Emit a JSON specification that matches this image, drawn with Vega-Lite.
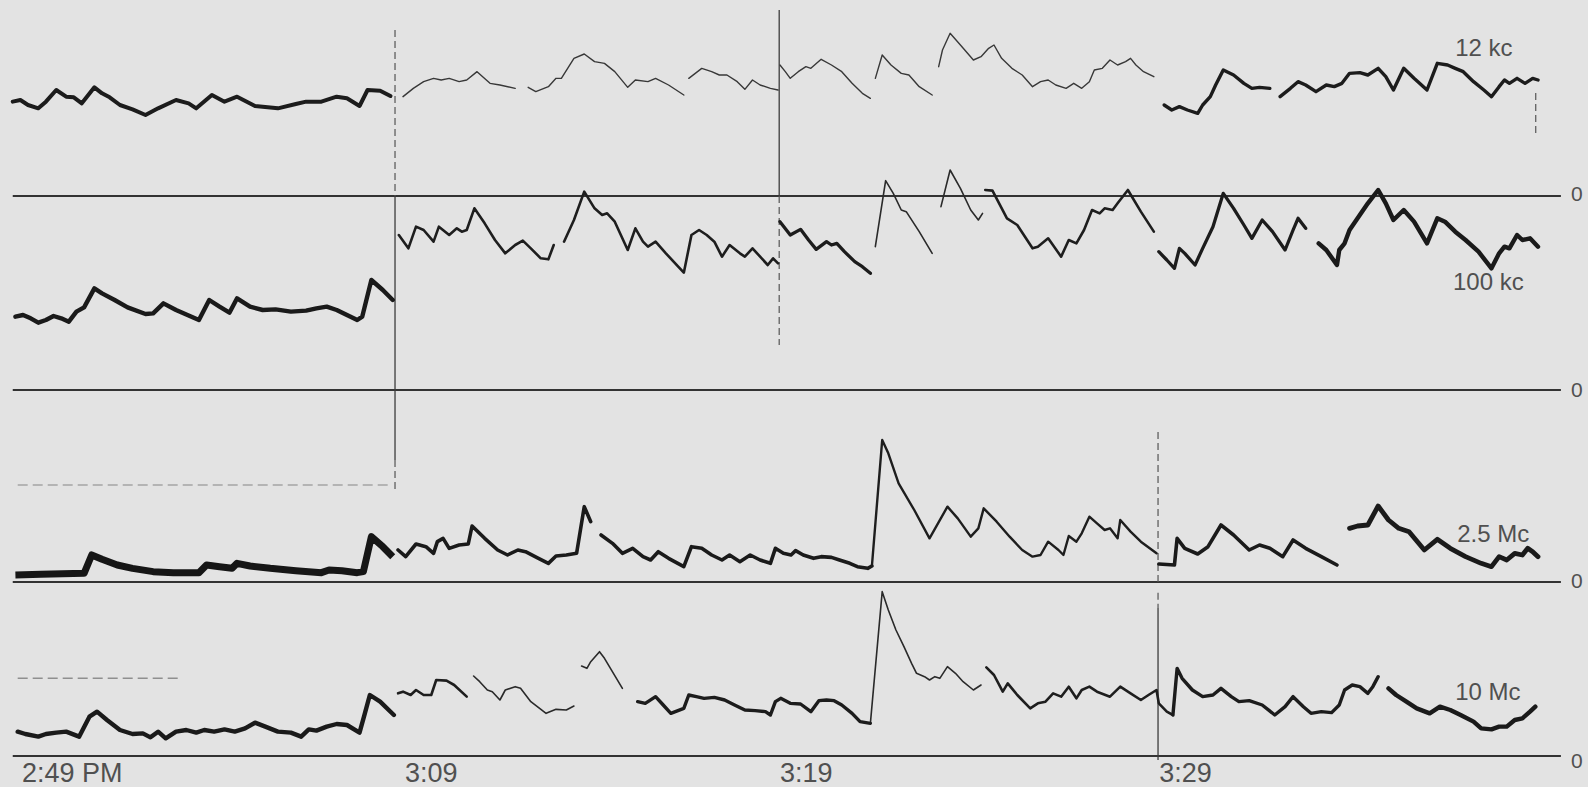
{
"$schema": "https://vega.github.io/schema/vega-lite/v6.json",
"background": "#e3e3e3",
"padding": 0,
"config": {"view": {"stroke": null}, "font": "Liberation Sans"},
"datasets": {
"trace": [
{"band":"12 kc","seg":"12a","t":-10.02,"v":28.3},{"band":"12 kc","seg":"12a","t":-9.82,"v":28.8},{"band":"12 kc","seg":"12a","t":-9.62,"v":27.3},{"band":"12 kc","seg":"12a","t":-9.35,"v":26.3},{"band":"12 kc","seg":"12a","t":-9.15,"v":28.3},{"band":"12 kc","seg":"12a","t":-8.88,"v":31.8},{"band":"12 kc","seg":"12a","t":-8.62,"v":29.8},{"band":"12 kc","seg":"12a","t":-8.42,"v":29.6},{"band":"12 kc","seg":"12a","t":-8.21,"v":27.8},{"band":"12 kc","seg":"12a","t":-7.88,"v":32.6},{"band":"12 kc","seg":"12a","t":-7.68,"v":30.8},{"band":"12 kc","seg":"12a","t":-7.48,"v":29.6},{"band":"12 kc","seg":"12a","t":-7.21,"v":27.3},{"band":"12 kc","seg":"12a","t":-6.88,"v":26.0},{"band":"12 kc","seg":"12a","t":-6.54,"v":24.3},{"band":"12 kc","seg":"12a","t":-6.21,"v":26.3},{"band":"12 kc","seg":"12a","t":-5.74,"v":28.8},{"band":"12 kc","seg":"12a","t":-5.41,"v":27.8},{"band":"12 kc","seg":"12a","t":-5.21,"v":26.3},{"band":"12 kc","seg":"12a","t":-4.80,"v":30.3},{"band":"12 kc","seg":"12a","t":-4.47,"v":28.3},{"band":"12 kc","seg":"12a","t":-4.14,"v":29.8},{"band":"12 kc","seg":"12a","t":-3.67,"v":27.0},{"band":"12 kc","seg":"12a","t":-3.07,"v":26.3},{"band":"12 kc","seg":"12a","t":-2.60,"v":27.6},{"band":"12 kc","seg":"12a","t":-2.33,"v":28.3},{"band":"12 kc","seg":"12a","t":-1.93,"v":28.3},{"band":"12 kc","seg":"12a","t":-1.53,"v":29.8},{"band":"12 kc","seg":"12a","t":-1.26,"v":29.3},{"band":"12 kc","seg":"12a","t":-0.93,"v":27.0},{"band":"12 kc","seg":"12a","t":-0.72,"v":31.8},{"band":"12 kc","seg":"12a","t":-0.39,"v":31.6},{"band":"12 kc","seg":"12a","t":-0.12,"v":30.0},
{"band":"12 kc","seg":"12b","t":0.21,"v":29.8},{"band":"12 kc","seg":"12b","t":0.48,"v":32.3},{"band":"12 kc","seg":"12b","t":0.75,"v":34.3},{"band":"12 kc","seg":"12b","t":1.01,"v":35.3},{"band":"12 kc","seg":"12b","t":1.21,"v":34.8},{"band":"12 kc","seg":"12b","t":1.42,"v":35.3},{"band":"12 kc","seg":"12b","t":1.68,"v":34.3},{"band":"12 kc","seg":"12b","t":1.88,"v":34.8},{"band":"12 kc","seg":"12b","t":2.15,"v":37.3},{"band":"12 kc","seg":"12b","t":2.49,"v":33.8},{"band":"12 kc","seg":"12b","t":2.75,"v":33.3},{"band":"12 kc","seg":"12b","t":3.15,"v":32.3},
{"band":"12 kc","seg":"12c","t":3.49,"v":32.6},{"band":"12 kc","seg":"12c","t":3.69,"v":31.3},{"band":"12 kc","seg":"12c","t":4.02,"v":32.8},{"band":"12 kc","seg":"12c","t":4.22,"v":35.3},{"band":"12 kc","seg":"12c","t":4.36,"v":35.3},{"band":"12 kc","seg":"12c","t":4.69,"v":41.3},{"band":"12 kc","seg":"12c","t":4.96,"v":42.6},{"band":"12 kc","seg":"12c","t":5.23,"v":40.3},{"band":"12 kc","seg":"12c","t":5.49,"v":39.8},{"band":"12 kc","seg":"12c","t":5.76,"v":37.3},{"band":"12 kc","seg":"12c","t":6.10,"v":32.6},{"band":"12 kc","seg":"12c","t":6.30,"v":34.8},{"band":"12 kc","seg":"12c","t":6.63,"v":34.3},{"band":"12 kc","seg":"12c","t":6.83,"v":35.3},{"band":"12 kc","seg":"12c","t":7.17,"v":33.3},{"band":"12 kc","seg":"12c","t":7.57,"v":30.3},
{"band":"12 kc","seg":"12d","t":7.70,"v":35.3},{"band":"12 kc","seg":"12d","t":8.04,"v":38.3},{"band":"12 kc","seg":"12d","t":8.30,"v":37.3},{"band":"12 kc","seg":"12d","t":8.50,"v":36.3},{"band":"12 kc","seg":"12d","t":8.70,"v":36.3},{"band":"12 kc","seg":"12d","t":8.97,"v":34.3},{"band":"12 kc","seg":"12d","t":9.17,"v":32.0},{"band":"12 kc","seg":"12d","t":9.37,"v":34.8},{"band":"12 kc","seg":"12d","t":9.57,"v":33.3},{"band":"12 kc","seg":"12d","t":9.84,"v":32.3},{"band":"12 kc","seg":"12d","t":10.04,"v":31.8},
{"band":"12 kc","seg":"12e","t":10.09,"v":39.3},{"band":"12 kc","seg":"12e","t":10.23,"v":37.3},{"band":"12 kc","seg":"12e","t":10.36,"v":35.3},{"band":"12 kc","seg":"12e","t":10.57,"v":37.3},{"band":"12 kc","seg":"12e","t":10.77,"v":38.8},{"band":"12 kc","seg":"12e","t":10.90,"v":38.3},{"band":"12 kc","seg":"12e","t":11.17,"v":41.0},{"band":"12 kc","seg":"12e","t":11.44,"v":39.3},{"band":"12 kc","seg":"12e","t":11.71,"v":37.3},{"band":"12 kc","seg":"12e","t":11.98,"v":33.8},{"band":"12 kc","seg":"12e","t":12.25,"v":30.8},{"band":"12 kc","seg":"12e","t":12.46,"v":29.3},
{"band":"12 kc","seg":"12f","t":12.59,"v":35.3},{"band":"12 kc","seg":"12f","t":12.77,"v":42.3},{"band":"12 kc","seg":"12f","t":13.00,"v":39.3},{"band":"12 kc","seg":"12f","t":13.27,"v":36.8},{"band":"12 kc","seg":"12f","t":13.47,"v":36.3},{"band":"12 kc","seg":"12f","t":13.74,"v":32.8},{"band":"12 kc","seg":"12f","t":14.08,"v":30.3},
{"band":"12 kc","seg":"12g","t":14.25,"v":38.8},{"band":"12 kc","seg":"12g","t":14.35,"v":43.8},{"band":"12 kc","seg":"12g","t":14.55,"v":48.8},{"band":"12 kc","seg":"12g","t":14.82,"v":45.3},{"band":"12 kc","seg":"12g","t":15.16,"v":40.8},{"band":"12 kc","seg":"12g","t":15.36,"v":41.8},{"band":"12 kc","seg":"12g","t":15.56,"v":44.3},{"band":"12 kc","seg":"12g","t":15.70,"v":45.3},{"band":"12 kc","seg":"12g","t":15.90,"v":41.3},{"band":"12 kc","seg":"12g","t":16.17,"v":38.3},{"band":"12 kc","seg":"12g","t":16.44,"v":36.3},{"band":"12 kc","seg":"12g","t":16.71,"v":32.8},{"band":"12 kc","seg":"12g","t":16.92,"v":34.3},{"band":"12 kc","seg":"12g","t":17.12,"v":34.8},{"band":"12 kc","seg":"12g","t":17.32,"v":33.3},{"band":"12 kc","seg":"12g","t":17.59,"v":32.3},{"band":"12 kc","seg":"12g","t":17.79,"v":33.8},{"band":"12 kc","seg":"12g","t":18.00,"v":32.3},{"band":"12 kc","seg":"12g","t":18.20,"v":34.3},{"band":"12 kc","seg":"12g","t":18.33,"v":37.8},{"band":"12 kc","seg":"12g","t":18.54,"v":38.3},{"band":"12 kc","seg":"12g","t":18.74,"v":40.8},{"band":"12 kc","seg":"12g","t":18.94,"v":39.3},{"band":"12 kc","seg":"12g","t":19.15,"v":40.3},{"band":"12 kc","seg":"12g","t":19.28,"v":41.3},{"band":"12 kc","seg":"12g","t":19.42,"v":39.3},{"band":"12 kc","seg":"12g","t":19.62,"v":37.3},{"band":"12 kc","seg":"12g","t":19.89,"v":35.8},
{"band":"12 kc","seg":"12h","t":20.16,"v":27.3},{"band":"12 kc","seg":"12h","t":20.36,"v":25.8},{"band":"12 kc","seg":"12h","t":20.56,"v":26.8},{"band":"12 kc","seg":"12h","t":20.77,"v":25.8},{"band":"12 kc","seg":"12h","t":21.04,"v":24.8},{"band":"12 kc","seg":"12h","t":21.17,"v":27.3},{"band":"12 kc","seg":"12h","t":21.37,"v":29.8},{"band":"12 kc","seg":"12h","t":21.51,"v":33.3},{"band":"12 kc","seg":"12h","t":21.71,"v":37.8},{"band":"12 kc","seg":"12h","t":21.98,"v":36.3},{"band":"12 kc","seg":"12h","t":22.25,"v":33.8},{"band":"12 kc","seg":"12h","t":22.46,"v":32.3},{"band":"12 kc","seg":"12h","t":22.66,"v":32.6},{"band":"12 kc","seg":"12h","t":22.93,"v":32.3},
{"band":"12 kc","seg":"12i","t":23.20,"v":29.8},{"band":"12 kc","seg":"12i","t":23.47,"v":32.3},{"band":"12 kc","seg":"12i","t":23.67,"v":34.3},{"band":"12 kc","seg":"12i","t":23.87,"v":33.3},{"band":"12 kc","seg":"12i","t":24.14,"v":31.3},{"band":"12 kc","seg":"12i","t":24.41,"v":33.3},{"band":"12 kc","seg":"12i","t":24.62,"v":32.8},{"band":"12 kc","seg":"12i","t":24.82,"v":33.8},{"band":"12 kc","seg":"12i","t":25.02,"v":36.8},{"band":"12 kc","seg":"12i","t":25.29,"v":37.0},{"band":"12 kc","seg":"12i","t":25.50,"v":36.3},{"band":"12 kc","seg":"12i","t":25.77,"v":38.3},{"band":"12 kc","seg":"12i","t":25.97,"v":35.8},{"band":"12 kc","seg":"12i","t":26.17,"v":31.8},{"band":"12 kc","seg":"12i","t":26.44,"v":38.3},{"band":"12 kc","seg":"12i","t":26.71,"v":35.3},{"band":"12 kc","seg":"12i","t":27.05,"v":31.8},{"band":"12 kc","seg":"12i","t":27.32,"v":39.8},{"band":"12 kc","seg":"12i","t":27.59,"v":39.3},{"band":"12 kc","seg":"12i","t":27.79,"v":38.3},{"band":"12 kc","seg":"12i","t":28.00,"v":37.3},{"band":"12 kc","seg":"12i","t":28.27,"v":34.3},{"band":"12 kc","seg":"12i","t":28.54,"v":31.8},{"band":"12 kc","seg":"12i","t":28.74,"v":29.8},{"band":"12 kc","seg":"12i","t":28.94,"v":32.8},{"band":"12 kc","seg":"12i","t":29.08,"v":34.8},{"band":"12 kc","seg":"12i","t":29.21,"v":33.8},{"band":"12 kc","seg":"12i","t":29.41,"v":35.3},{"band":"12 kc","seg":"12i","t":29.62,"v":33.8},{"band":"12 kc","seg":"12i","t":29.82,"v":35.3},{"band":"12 kc","seg":"12i","t":29.96,"v":34.8},

{"band":"100 kc","seg":"100a","t":-9.95,"v":22.0},{"band":"100 kc","seg":"100a","t":-9.75,"v":22.5},{"band":"100 kc","seg":"100a","t":-9.55,"v":21.5},{"band":"100 kc","seg":"100a","t":-9.35,"v":20.2},{"band":"100 kc","seg":"100a","t":-9.15,"v":21.0},{"band":"100 kc","seg":"100a","t":-8.95,"v":22.2},{"band":"100 kc","seg":"100a","t":-8.75,"v":21.5},{"band":"100 kc","seg":"100a","t":-8.55,"v":20.5},{"band":"100 kc","seg":"100a","t":-8.35,"v":23.5},{"band":"100 kc","seg":"100a","t":-8.15,"v":24.8},{"band":"100 kc","seg":"100a","t":-7.88,"v":30.5},{"band":"100 kc","seg":"100a","t":-7.68,"v":29.0},{"band":"100 kc","seg":"100a","t":-7.35,"v":27.0},{"band":"100 kc","seg":"100a","t":-7.01,"v":24.8},{"band":"100 kc","seg":"100a","t":-6.54,"v":22.8},{"band":"100 kc","seg":"100a","t":-6.34,"v":23.0},{"band":"100 kc","seg":"100a","t":-6.07,"v":26.0},{"band":"100 kc","seg":"100a","t":-5.74,"v":24.0},{"band":"100 kc","seg":"100a","t":-5.14,"v":21.0},{"band":"100 kc","seg":"100a","t":-4.87,"v":27.0},{"band":"100 kc","seg":"100a","t":-4.60,"v":25.0},{"band":"100 kc","seg":"100a","t":-4.34,"v":23.2},{"band":"100 kc","seg":"100a","t":-4.14,"v":27.5},{"band":"100 kc","seg":"100a","t":-3.80,"v":25.0},{"band":"100 kc","seg":"100a","t":-3.47,"v":24.0},{"band":"100 kc","seg":"100a","t":-3.13,"v":24.2},{"band":"100 kc","seg":"100a","t":-2.73,"v":23.5},{"band":"100 kc","seg":"100a","t":-2.33,"v":23.8},{"band":"100 kc","seg":"100a","t":-2.06,"v":24.5},{"band":"100 kc","seg":"100a","t":-1.79,"v":25.0},{"band":"100 kc","seg":"100a","t":-1.53,"v":24.0},{"band":"100 kc","seg":"100a","t":-0.99,"v":21.0},{"band":"100 kc","seg":"100a","t":-0.86,"v":22.0},{"band":"100 kc","seg":"100a","t":-0.62,"v":33.0},{"band":"100 kc","seg":"100a","t":-0.32,"v":30.0},{"band":"100 kc","seg":"100a","t":-0.06,"v":27.0},
{"band":"100 kc","seg":"100b","t":0.10,"v":46.5},{"band":"100 kc","seg":"100b","t":0.35,"v":42.5},{"band":"100 kc","seg":"100b","t":0.55,"v":49.0},{"band":"100 kc","seg":"100b","t":0.75,"v":48.0},{"band":"100 kc","seg":"100b","t":1.01,"v":44.5},{"band":"100 kc","seg":"100b","t":1.15,"v":49.0},{"band":"100 kc","seg":"100b","t":1.42,"v":46.5},{"band":"100 kc","seg":"100b","t":1.62,"v":48.5},{"band":"100 kc","seg":"100b","t":1.75,"v":47.5},{"band":"100 kc","seg":"100b","t":1.88,"v":48.0},{"band":"100 kc","seg":"100b","t":2.08,"v":54.5},{"band":"100 kc","seg":"100b","t":2.35,"v":50.0},{"band":"100 kc","seg":"100b","t":2.62,"v":45.0},{"band":"100 kc","seg":"100b","t":2.89,"v":41.0},{"band":"100 kc","seg":"100b","t":3.15,"v":43.5},{"band":"100 kc","seg":"100b","t":3.35,"v":44.8},{"band":"100 kc","seg":"100b","t":3.56,"v":42.5},{"band":"100 kc","seg":"100b","t":3.82,"v":39.5},{"band":"100 kc","seg":"100b","t":4.02,"v":39.2},{"band":"100 kc","seg":"100b","t":4.16,"v":43.5},
{"band":"100 kc","seg":"100c","t":4.43,"v":44.5},{"band":"100 kc","seg":"100c","t":4.69,"v":51.0},{"band":"100 kc","seg":"100c","t":4.96,"v":59.5},{"band":"100 kc","seg":"100c","t":5.23,"v":54.5},{"band":"100 kc","seg":"100c","t":5.43,"v":52.5},{"band":"100 kc","seg":"100c","t":5.56,"v":53.0},{"band":"100 kc","seg":"100c","t":5.76,"v":50.5},{"band":"100 kc","seg":"100c","t":6.10,"v":42.0},{"band":"100 kc","seg":"100c","t":6.30,"v":48.5},{"band":"100 kc","seg":"100c","t":6.50,"v":44.5},{"band":"100 kc","seg":"100c","t":6.63,"v":43.0},{"band":"100 kc","seg":"100c","t":6.83,"v":44.5},{"band":"100 kc","seg":"100c","t":7.10,"v":41.0},{"band":"100 kc","seg":"100c","t":7.57,"v":35.2},{"band":"100 kc","seg":"100c","t":7.77,"v":46.5},{"band":"100 kc","seg":"100c","t":7.97,"v":48.0},{"band":"100 kc","seg":"100c","t":8.17,"v":46.5},{"band":"100 kc","seg":"100c","t":8.37,"v":44.5},{"band":"100 kc","seg":"100c","t":8.57,"v":40.0},{"band":"100 kc","seg":"100c","t":8.77,"v":43.5},{"band":"100 kc","seg":"100c","t":9.04,"v":41.0},{"band":"100 kc","seg":"100c","t":9.17,"v":40.0},{"band":"100 kc","seg":"100c","t":9.37,"v":42.5},{"band":"100 kc","seg":"100c","t":9.57,"v":40.0},{"band":"100 kc","seg":"100c","t":9.77,"v":37.5},{"band":"100 kc","seg":"100c","t":9.91,"v":39.5},{"band":"100 kc","seg":"100c","t":10.04,"v":38.0},
{"band":"100 kc","seg":"100d","t":10.09,"v":50.5},{"band":"100 kc","seg":"100d","t":10.36,"v":46.5},{"band":"100 kc","seg":"100d","t":10.63,"v":48.2},{"band":"100 kc","seg":"100d","t":10.84,"v":45.0},{"band":"100 kc","seg":"100d","t":11.04,"v":42.2},{"band":"100 kc","seg":"100d","t":11.31,"v":44.5},{"band":"100 kc","seg":"100d","t":11.44,"v":43.5},{"band":"100 kc","seg":"100d","t":11.58,"v":44.0},{"band":"100 kc","seg":"100d","t":11.78,"v":41.5},{"band":"100 kc","seg":"100d","t":12.05,"v":38.5},{"band":"100 kc","seg":"100d","t":12.25,"v":37.0},{"band":"100 kc","seg":"100d","t":12.46,"v":35.0},
{"band":"100 kc","seg":"100e","t":12.59,"v":43.0},{"band":"100 kc","seg":"100e","t":12.86,"v":62.8},{"band":"100 kc","seg":"100e","t":13.06,"v":59.0},{"band":"100 kc","seg":"100e","t":13.27,"v":54.0},{"band":"100 kc","seg":"100e","t":13.40,"v":53.5},{"band":"100 kc","seg":"100e","t":13.74,"v":47.5},{"band":"100 kc","seg":"100e","t":14.08,"v":41.0},
{"band":"100 kc","seg":"100f","t":14.31,"v":55.0},{"band":"100 kc","seg":"100f","t":14.55,"v":66.0},{"band":"100 kc","seg":"100f","t":14.82,"v":60.5},{"band":"100 kc","seg":"100f","t":15.09,"v":54.0},{"band":"100 kc","seg":"100f","t":15.29,"v":51.0},{"band":"100 kc","seg":"100f","t":15.40,"v":53.0},
{"band":"100 kc","seg":"100g","t":15.47,"v":60.0},{"band":"100 kc","seg":"100g","t":15.66,"v":59.8},{"band":"100 kc","seg":"100g","t":16.04,"v":51.5},{"band":"100 kc","seg":"100g","t":16.31,"v":49.5},{"band":"100 kc","seg":"100g","t":16.71,"v":42.5},{"band":"100 kc","seg":"100g","t":16.85,"v":43.0},{"band":"100 kc","seg":"100g","t":17.12,"v":45.5},{"band":"100 kc","seg":"100g","t":17.46,"v":40.0},{"band":"100 kc","seg":"100g","t":17.66,"v":45.0},{"band":"100 kc","seg":"100g","t":17.86,"v":44.0},{"band":"100 kc","seg":"100g","t":18.06,"v":48.0},{"band":"100 kc","seg":"100g","t":18.27,"v":54.0},{"band":"100 kc","seg":"100g","t":18.47,"v":53.0},{"band":"100 kc","seg":"100g","t":18.60,"v":54.5},{"band":"100 kc","seg":"100g","t":18.81,"v":54.0},{"band":"100 kc","seg":"100g","t":18.94,"v":56.0},{"band":"100 kc","seg":"100g","t":19.21,"v":60.0},{"band":"100 kc","seg":"100g","t":19.55,"v":53.5},{"band":"100 kc","seg":"100g","t":19.89,"v":47.5},
{"band":"100 kc","seg":"100h","t":20.02,"v":41.5},{"band":"100 kc","seg":"100h","t":20.23,"v":39.0},{"band":"100 kc","seg":"100h","t":20.43,"v":36.5},{"band":"100 kc","seg":"100h","t":20.56,"v":42.5},{"band":"100 kc","seg":"100h","t":20.70,"v":41.0},{"band":"100 kc","seg":"100h","t":20.97,"v":37.5},{"band":"100 kc","seg":"100h","t":21.17,"v":42.5},{"band":"100 kc","seg":"100h","t":21.44,"v":49.0},{"band":"100 kc","seg":"100h","t":21.71,"v":59.0},{"band":"100 kc","seg":"100h","t":21.98,"v":54.5},{"band":"100 kc","seg":"100h","t":22.25,"v":49.5},{"band":"100 kc","seg":"100h","t":22.46,"v":45.5},{"band":"100 kc","seg":"100h","t":22.73,"v":51.0},{"band":"100 kc","seg":"100h","t":23.00,"v":47.5},{"band":"100 kc","seg":"100h","t":23.33,"v":42.0},{"band":"100 kc","seg":"100h","t":23.54,"v":48.0},{"band":"100 kc","seg":"100h","t":23.67,"v":51.5},{"band":"100 kc","seg":"100h","t":23.87,"v":48.5},
{"band":"100 kc","seg":"100i","t":24.21,"v":44.0},{"band":"100 kc","seg":"100i","t":24.41,"v":42.0},{"band":"100 kc","seg":"100i","t":24.69,"v":37.5},{"band":"100 kc","seg":"100i","t":24.75,"v":42.0},{"band":"100 kc","seg":"100i","t":24.89,"v":44.0},{"band":"100 kc","seg":"100i","t":25.02,"v":48.0},{"band":"100 kc","seg":"100i","t":25.23,"v":51.5},{"band":"100 kc","seg":"100i","t":25.50,"v":56.0},{"band":"100 kc","seg":"100i","t":25.77,"v":60.0},{"band":"100 kc","seg":"100i","t":25.97,"v":56.0},{"band":"100 kc","seg":"100i","t":26.17,"v":51.0},{"band":"100 kc","seg":"100i","t":26.44,"v":54.0},{"band":"100 kc","seg":"100i","t":26.71,"v":50.5},{"band":"100 kc","seg":"100i","t":27.05,"v":44.0},{"band":"100 kc","seg":"100i","t":27.32,"v":51.5},{"band":"100 kc","seg":"100i","t":27.52,"v":50.5},{"band":"100 kc","seg":"100i","t":27.79,"v":47.5},{"band":"100 kc","seg":"100i","t":28.06,"v":45.0},{"band":"100 kc","seg":"100i","t":28.40,"v":41.5},{"band":"100 kc","seg":"100i","t":28.74,"v":36.5},{"band":"100 kc","seg":"100i","t":28.94,"v":41.0},{"band":"100 kc","seg":"100i","t":29.08,"v":43.0},{"band":"100 kc","seg":"100i","t":29.21,"v":42.5},{"band":"100 kc","seg":"100i","t":29.41,"v":46.5},{"band":"100 kc","seg":"100i","t":29.55,"v":45.0},{"band":"100 kc","seg":"100i","t":29.75,"v":45.5},{"band":"100 kc","seg":"100i","t":29.96,"v":43.0},

{"band":"2.5 Mc","seg":"25a","t":-9.95,"v":2.1},{"band":"2.5 Mc","seg":"25a","t":-9.28,"v":2.3},{"band":"2.5 Mc","seg":"25a","t":-8.15,"v":2.6},{"band":"2.5 Mc","seg":"25a","t":-7.95,"v":8.1},{"band":"2.5 Mc","seg":"25a","t":-7.68,"v":6.8},{"band":"2.5 Mc","seg":"25a","t":-7.28,"v":5.1},{"band":"2.5 Mc","seg":"25a","t":-6.88,"v":4.1},{"band":"2.5 Mc","seg":"25a","t":-6.34,"v":3.1},{"band":"2.5 Mc","seg":"25a","t":-5.81,"v":2.8},{"band":"2.5 Mc","seg":"25a","t":-5.14,"v":2.8},{"band":"2.5 Mc","seg":"25a","t":-4.94,"v":5.1},{"band":"2.5 Mc","seg":"25a","t":-4.60,"v":4.6},{"band":"2.5 Mc","seg":"25a","t":-4.27,"v":4.1},{"band":"2.5 Mc","seg":"25a","t":-4.14,"v":5.6},{"band":"2.5 Mc","seg":"25a","t":-3.80,"v":4.8},{"band":"2.5 Mc","seg":"25a","t":-3.27,"v":4.1},{"band":"2.5 Mc","seg":"25a","t":-2.60,"v":3.4},{"band":"2.5 Mc","seg":"25a","t":-1.93,"v":2.8},{"band":"2.5 Mc","seg":"25a","t":-1.73,"v":3.6},{"band":"2.5 Mc","seg":"25a","t":-1.39,"v":3.4},{"band":"2.5 Mc","seg":"25a","t":-0.99,"v":2.8},{"band":"2.5 Mc","seg":"25a","t":-0.83,"v":3.1},{"band":"2.5 Mc","seg":"25a","t":-0.62,"v":13.6},{"band":"2.5 Mc","seg":"25a","t":-0.32,"v":10.6},{"band":"2.5 Mc","seg":"25a","t":-0.06,"v":7.6},
{"band":"2.5 Mc","seg":"25b","t":0.08,"v":9.6},{"band":"2.5 Mc","seg":"25b","t":0.28,"v":7.6},{"band":"2.5 Mc","seg":"25b","t":0.55,"v":11.4},{"band":"2.5 Mc","seg":"25b","t":0.81,"v":10.6},{"band":"2.5 Mc","seg":"25b","t":1.01,"v":8.6},{"band":"2.5 Mc","seg":"25b","t":1.11,"v":12.1},{"band":"2.5 Mc","seg":"25b","t":1.26,"v":13.1},{"band":"2.5 Mc","seg":"25b","t":1.42,"v":10.1},{"band":"2.5 Mc","seg":"25b","t":1.68,"v":11.1},{"band":"2.5 Mc","seg":"25b","t":1.92,"v":11.4},{"band":"2.5 Mc","seg":"25b","t":2.02,"v":16.8},{"band":"2.5 Mc","seg":"25b","t":2.35,"v":13.1},{"band":"2.5 Mc","seg":"25b","t":2.69,"v":9.6},{"band":"2.5 Mc","seg":"25b","t":2.95,"v":8.1},{"band":"2.5 Mc","seg":"25b","t":3.22,"v":9.6},{"band":"2.5 Mc","seg":"25b","t":3.42,"v":9.1},{"band":"2.5 Mc","seg":"25b","t":3.76,"v":7.1},{"band":"2.5 Mc","seg":"25b","t":4.02,"v":5.6},{"band":"2.5 Mc","seg":"25b","t":4.22,"v":7.8},{"band":"2.5 Mc","seg":"25b","t":4.49,"v":8.1},{"band":"2.5 Mc","seg":"25b","t":4.76,"v":8.6},{"band":"2.5 Mc","seg":"25b","t":4.96,"v":22.6},{"band":"2.5 Mc","seg":"25b","t":5.13,"v":18.1},
{"band":"2.5 Mc","seg":"25c","t":5.40,"v":14.1},{"band":"2.5 Mc","seg":"25c","t":5.70,"v":11.6},{"band":"2.5 Mc","seg":"25c","t":5.96,"v":8.6},{"band":"2.5 Mc","seg":"25c","t":6.23,"v":10.1},{"band":"2.5 Mc","seg":"25c","t":6.50,"v":7.6},{"band":"2.5 Mc","seg":"25c","t":6.70,"v":6.6},{"band":"2.5 Mc","seg":"25c","t":6.90,"v":9.1},{"band":"2.5 Mc","seg":"25c","t":7.17,"v":7.1},{"band":"2.5 Mc","seg":"25c","t":7.57,"v":4.6},{"band":"2.5 Mc","seg":"25c","t":7.77,"v":10.6},{"band":"2.5 Mc","seg":"25c","t":8.04,"v":10.1},{"band":"2.5 Mc","seg":"25c","t":8.30,"v":8.1},{"band":"2.5 Mc","seg":"25c","t":8.57,"v":6.6},{"band":"2.5 Mc","seg":"25c","t":8.77,"v":8.1},{"band":"2.5 Mc","seg":"25c","t":9.04,"v":6.1},{"band":"2.5 Mc","seg":"25c","t":9.31,"v":8.1},{"band":"2.5 Mc","seg":"25c","t":9.57,"v":6.6},{"band":"2.5 Mc","seg":"25c","t":9.84,"v":5.6},{"band":"2.5 Mc","seg":"25c","t":9.97,"v":10.1},{"band":"2.5 Mc","seg":"25c","t":10.18,"v":8.6},{"band":"2.5 Mc","seg":"25c","t":10.38,"v":8.1},{"band":"2.5 Mc","seg":"25c","t":10.50,"v":9.4},{"band":"2.5 Mc","seg":"25c","t":10.70,"v":8.1},{"band":"2.5 Mc","seg":"25c","t":10.97,"v":7.1},{"band":"2.5 Mc","seg":"25c","t":11.17,"v":7.6},{"band":"2.5 Mc","seg":"25c","t":11.44,"v":7.4},{"band":"2.5 Mc","seg":"25c","t":11.65,"v":6.6},{"band":"2.5 Mc","seg":"25c","t":11.92,"v":5.6},{"band":"2.5 Mc","seg":"25c","t":12.12,"v":4.6},{"band":"2.5 Mc","seg":"25c","t":12.39,"v":4.1},{"band":"2.5 Mc","seg":"25c","t":12.50,"v":4.8},
{"band":"2.5 Mc","seg":"25d","t":12.50,"v":4.8},{"band":"2.5 Mc","seg":"25d","t":12.77,"v":42.6},{"band":"2.5 Mc","seg":"25d","t":12.93,"v":38.6},{"band":"2.5 Mc","seg":"25d","t":13.20,"v":29.6},{"band":"2.5 Mc","seg":"25d","t":13.61,"v":21.6},{"band":"2.5 Mc","seg":"25d","t":14.01,"v":13.1},{"band":"2.5 Mc","seg":"25d","t":14.48,"v":22.6},{"band":"2.5 Mc","seg":"25d","t":14.75,"v":19.1},{"band":"2.5 Mc","seg":"25d","t":15.09,"v":13.6},{"band":"2.5 Mc","seg":"25d","t":15.29,"v":16.1},{"band":"2.5 Mc","seg":"25d","t":15.43,"v":22.1},{"band":"2.5 Mc","seg":"25d","t":15.77,"v":18.1},{"band":"2.5 Mc","seg":"25d","t":16.11,"v":13.6},{"band":"2.5 Mc","seg":"25d","t":16.44,"v":9.6},{"band":"2.5 Mc","seg":"25d","t":16.71,"v":7.6},{"band":"2.5 Mc","seg":"25d","t":16.92,"v":8.1},{"band":"2.5 Mc","seg":"25d","t":17.12,"v":12.1},{"band":"2.5 Mc","seg":"25d","t":17.39,"v":9.6},{"band":"2.5 Mc","seg":"25d","t":17.52,"v":8.1},{"band":"2.5 Mc","seg":"25d","t":17.66,"v":13.8},{"band":"2.5 Mc","seg":"25d","t":17.86,"v":12.1},{"band":"2.5 Mc","seg":"25d","t":18.00,"v":14.6},{"band":"2.5 Mc","seg":"25d","t":18.20,"v":19.6},{"band":"2.5 Mc","seg":"25d","t":18.40,"v":17.6},{"band":"2.5 Mc","seg":"25d","t":18.60,"v":15.6},{"band":"2.5 Mc","seg":"25d","t":18.74,"v":16.1},{"band":"2.5 Mc","seg":"25d","t":18.94,"v":13.1},{"band":"2.5 Mc","seg":"25d","t":19.01,"v":18.6},{"band":"2.5 Mc","seg":"25d","t":19.28,"v":15.1},{"band":"2.5 Mc","seg":"25d","t":19.55,"v":12.1},{"band":"2.5 Mc","seg":"25d","t":19.96,"v":8.6},
{"band":"2.5 Mc","seg":"25e","t":20.02,"v":5.4},{"band":"2.5 Mc","seg":"25e","t":20.43,"v":5.1},{"band":"2.5 Mc","seg":"25e","t":20.50,"v":13.1},{"band":"2.5 Mc","seg":"25e","t":20.70,"v":10.1},{"band":"2.5 Mc","seg":"25e","t":21.04,"v":8.4},{"band":"2.5 Mc","seg":"25e","t":21.31,"v":10.6},{"band":"2.5 Mc","seg":"25e","t":21.65,"v":17.1},{"band":"2.5 Mc","seg":"25e","t":21.98,"v":14.1},{"band":"2.5 Mc","seg":"25e","t":22.39,"v":9.6},{"band":"2.5 Mc","seg":"25e","t":22.66,"v":11.1},{"band":"2.5 Mc","seg":"25e","t":22.93,"v":10.1},{"band":"2.5 Mc","seg":"25e","t":23.27,"v":7.6},{"band":"2.5 Mc","seg":"25e","t":23.54,"v":12.6},{"band":"2.5 Mc","seg":"25e","t":23.87,"v":10.1},{"band":"2.5 Mc","seg":"25e","t":24.28,"v":7.6},{"band":"2.5 Mc","seg":"25e","t":24.69,"v":5.1},
{"band":"2.5 Mc","seg":"25f","t":25.02,"v":16.1},{"band":"2.5 Mc","seg":"25f","t":25.23,"v":16.8},{"band":"2.5 Mc","seg":"25f","t":25.50,"v":17.1},{"band":"2.5 Mc","seg":"25f","t":25.77,"v":22.8},{"band":"2.5 Mc","seg":"25f","t":26.04,"v":18.6},{"band":"2.5 Mc","seg":"25f","t":26.31,"v":16.1},{"band":"2.5 Mc","seg":"25f","t":26.58,"v":15.1},{"band":"2.5 Mc","seg":"25f","t":26.98,"v":9.6},{"band":"2.5 Mc","seg":"25f","t":27.32,"v":12.8},{"band":"2.5 Mc","seg":"25f","t":27.66,"v":10.1},{"band":"2.5 Mc","seg":"25f","t":28.06,"v":7.6},{"band":"2.5 Mc","seg":"25f","t":28.47,"v":5.6},{"band":"2.5 Mc","seg":"25f","t":28.74,"v":4.6},{"band":"2.5 Mc","seg":"25f","t":28.94,"v":7.6},{"band":"2.5 Mc","seg":"25f","t":29.14,"v":6.6},{"band":"2.5 Mc","seg":"25f","t":29.35,"v":8.6},{"band":"2.5 Mc","seg":"25f","t":29.55,"v":8.1},{"band":"2.5 Mc","seg":"25f","t":29.69,"v":10.1},{"band":"2.5 Mc","seg":"25f","t":29.82,"v":9.1},{"band":"2.5 Mc","seg":"25f","t":29.96,"v":7.6},

{"band":"10 Mc","seg":"10a","t":-9.89,"v":7.3},{"band":"10 Mc","seg":"10a","t":-9.69,"v":6.6},{"band":"10 Mc","seg":"10a","t":-9.35,"v":5.8},{"band":"10 Mc","seg":"10a","t":-9.15,"v":6.6},{"band":"10 Mc","seg":"10a","t":-8.88,"v":7.0},{"band":"10 Mc","seg":"10a","t":-8.62,"v":7.3},{"band":"10 Mc","seg":"10a","t":-8.28,"v":5.8},{"band":"10 Mc","seg":"10a","t":-8.01,"v":11.8},{"band":"10 Mc","seg":"10a","t":-7.81,"v":13.3},{"band":"10 Mc","seg":"10a","t":-7.55,"v":10.8},{"band":"10 Mc","seg":"10a","t":-7.21,"v":7.8},{"band":"10 Mc","seg":"10a","t":-6.88,"v":6.6},{"band":"10 Mc","seg":"10a","t":-6.61,"v":6.8},{"band":"10 Mc","seg":"10a","t":-6.41,"v":5.6},{"band":"10 Mc","seg":"10a","t":-6.21,"v":7.3},{"band":"10 Mc","seg":"10a","t":-6.01,"v":5.3},{"band":"10 Mc","seg":"10a","t":-5.74,"v":7.3},{"band":"10 Mc","seg":"10a","t":-5.47,"v":7.8},{"band":"10 Mc","seg":"10a","t":-5.21,"v":7.0},{"band":"10 Mc","seg":"10a","t":-5.00,"v":7.8},{"band":"10 Mc","seg":"10a","t":-4.74,"v":7.3},{"band":"10 Mc","seg":"10a","t":-4.47,"v":8.0},{"band":"10 Mc","seg":"10a","t":-4.20,"v":7.3},{"band":"10 Mc","seg":"10a","t":-3.93,"v":8.3},{"band":"10 Mc","seg":"10a","t":-3.67,"v":10.0},{"band":"10 Mc","seg":"10a","t":-3.40,"v":8.8},{"band":"10 Mc","seg":"10a","t":-3.07,"v":7.3},{"band":"10 Mc","seg":"10a","t":-2.73,"v":7.0},{"band":"10 Mc","seg":"10a","t":-2.46,"v":5.8},{"band":"10 Mc","seg":"10a","t":-2.26,"v":8.0},{"band":"10 Mc","seg":"10a","t":-2.06,"v":7.6},{"band":"10 Mc","seg":"10a","t":-1.79,"v":8.8},{"band":"10 Mc","seg":"10a","t":-1.53,"v":9.6},{"band":"10 Mc","seg":"10a","t":-1.26,"v":9.3},{"band":"10 Mc","seg":"10a","t":-0.93,"v":7.0},{"band":"10 Mc","seg":"10a","t":-0.79,"v":12.8},{"band":"10 Mc","seg":"10a","t":-0.66,"v":18.3},{"band":"10 Mc","seg":"10a","t":-0.39,"v":16.3},{"band":"10 Mc","seg":"10a","t":-0.03,"v":12.3},
{"band":"10 Mc","seg":"10b","t":0.08,"v":18.8},{"band":"10 Mc","seg":"10b","t":0.21,"v":19.3},{"band":"10 Mc","seg":"10b","t":0.41,"v":18.3},{"band":"10 Mc","seg":"10b","t":0.55,"v":19.8},{"band":"10 Mc","seg":"10b","t":0.75,"v":18.3},{"band":"10 Mc","seg":"10b","t":0.95,"v":18.3},{"band":"10 Mc","seg":"10b","t":1.08,"v":22.8},{"band":"10 Mc","seg":"10b","t":1.35,"v":22.6},{"band":"10 Mc","seg":"10b","t":1.55,"v":21.3},{"band":"10 Mc","seg":"10b","t":1.88,"v":17.8},
{"band":"10 Mc","seg":"10c","t":2.06,"v":24.0},{"band":"10 Mc","seg":"10c","t":2.22,"v":22.3},{"band":"10 Mc","seg":"10c","t":2.42,"v":19.8},{"band":"10 Mc","seg":"10c","t":2.55,"v":19.3},{"band":"10 Mc","seg":"10c","t":2.75,"v":16.8},{"band":"10 Mc","seg":"10c","t":2.89,"v":19.8},{"band":"10 Mc","seg":"10c","t":3.15,"v":20.8},{"band":"10 Mc","seg":"10c","t":3.29,"v":20.3},{"band":"10 Mc","seg":"10c","t":3.56,"v":16.3},{"band":"10 Mc","seg":"10c","t":3.96,"v":12.8},{"band":"10 Mc","seg":"10c","t":4.22,"v":14.0},{"band":"10 Mc","seg":"10c","t":4.49,"v":13.8},{"band":"10 Mc","seg":"10c","t":4.69,"v":15.0},
{"band":"10 Mc","seg":"10d","t":4.89,"v":27.0},{"band":"10 Mc","seg":"10d","t":5.03,"v":26.3},{"band":"10 Mc","seg":"10d","t":5.13,"v":28.3},{"band":"10 Mc","seg":"10d","t":5.36,"v":31.3},{"band":"10 Mc","seg":"10d","t":5.49,"v":29.3},{"band":"10 Mc","seg":"10d","t":5.96,"v":20.3},
{"band":"10 Mc","seg":"10e","t":6.36,"v":16.3},{"band":"10 Mc","seg":"10e","t":6.56,"v":15.8},{"band":"10 Mc","seg":"10e","t":6.83,"v":17.8},{"band":"10 Mc","seg":"10e","t":7.03,"v":15.3},{"band":"10 Mc","seg":"10e","t":7.23,"v":12.8},{"band":"10 Mc","seg":"10e","t":7.57,"v":14.3},{"band":"10 Mc","seg":"10e","t":7.70,"v":18.3},{"band":"10 Mc","seg":"10e","t":7.90,"v":17.8},{"band":"10 Mc","seg":"10e","t":8.10,"v":17.3},{"band":"10 Mc","seg":"10e","t":8.37,"v":17.6},{"band":"10 Mc","seg":"10e","t":8.64,"v":16.8},{"band":"10 Mc","seg":"10e","t":8.90,"v":15.3},{"band":"10 Mc","seg":"10e","t":9.17,"v":13.8},{"band":"10 Mc","seg":"10e","t":9.44,"v":13.6},{"band":"10 Mc","seg":"10e","t":9.71,"v":13.3},{"band":"10 Mc","seg":"10e","t":9.84,"v":12.3},{"band":"10 Mc","seg":"10e","t":9.97,"v":16.3},{"band":"10 Mc","seg":"10e","t":10.11,"v":17.3},{"band":"10 Mc","seg":"10e","t":10.36,"v":15.8},{"band":"10 Mc","seg":"10e","t":10.63,"v":15.6},{"band":"10 Mc","seg":"10e","t":10.90,"v":13.3},{"band":"10 Mc","seg":"10e","t":11.11,"v":16.6},{"band":"10 Mc","seg":"10e","t":11.31,"v":16.8},{"band":"10 Mc","seg":"10e","t":11.51,"v":16.6},{"band":"10 Mc","seg":"10e","t":11.71,"v":15.3},{"band":"10 Mc","seg":"10e","t":11.98,"v":12.8},{"band":"10 Mc","seg":"10e","t":12.19,"v":10.3},{"band":"10 Mc","seg":"10e","t":12.46,"v":9.8},
{"band":"10 Mc","seg":"10f","t":12.46,"v":9.8},{"band":"10 Mc","seg":"10f","t":12.77,"v":49.3},{"band":"10 Mc","seg":"10f","t":12.93,"v":43.8},{"band":"10 Mc","seg":"10f","t":13.13,"v":37.8},{"band":"10 Mc","seg":"10f","t":13.34,"v":32.8},{"band":"10 Mc","seg":"10f","t":13.54,"v":27.8},{"band":"10 Mc","seg":"10f","t":13.67,"v":24.8},{"band":"10 Mc","seg":"10f","t":13.88,"v":23.8},{"band":"10 Mc","seg":"10f","t":14.01,"v":22.8},{"band":"10 Mc","seg":"10f","t":14.15,"v":23.8},{"band":"10 Mc","seg":"10f","t":14.28,"v":23.3},{"band":"10 Mc","seg":"10f","t":14.48,"v":26.8},{"band":"10 Mc","seg":"10f","t":14.69,"v":24.8},{"band":"10 Mc","seg":"10f","t":14.89,"v":22.3},{"band":"10 Mc","seg":"10f","t":15.16,"v":19.8},{"band":"10 Mc","seg":"10f","t":15.36,"v":21.3},
{"band":"10 Mc","seg":"10g","t":15.50,"v":26.6},{"band":"10 Mc","seg":"10g","t":15.70,"v":24.3},{"band":"10 Mc","seg":"10g","t":15.93,"v":19.3},{"band":"10 Mc","seg":"10g","t":16.06,"v":21.8},{"band":"10 Mc","seg":"10g","t":16.31,"v":18.3},{"band":"10 Mc","seg":"10g","t":16.65,"v":14.3},{"band":"10 Mc","seg":"10g","t":16.85,"v":15.8},{"band":"10 Mc","seg":"10g","t":17.05,"v":16.3},{"band":"10 Mc","seg":"10g","t":17.25,"v":18.8},{"band":"10 Mc","seg":"10g","t":17.46,"v":17.8},{"band":"10 Mc","seg":"10g","t":17.66,"v":20.8},{"band":"10 Mc","seg":"10g","t":17.86,"v":17.3},{"band":"10 Mc","seg":"10g","t":18.00,"v":19.8},{"band":"10 Mc","seg":"10g","t":18.20,"v":20.8},{"band":"10 Mc","seg":"10g","t":18.40,"v":19.3},{"band":"10 Mc","seg":"10g","t":18.74,"v":17.8},{"band":"10 Mc","seg":"10g","t":19.01,"v":20.8},{"band":"10 Mc","seg":"10g","t":19.28,"v":18.8},{"band":"10 Mc","seg":"10g","t":19.55,"v":16.8},{"band":"10 Mc","seg":"10g","t":19.75,"v":18.3},{"band":"10 Mc","seg":"10g","t":19.96,"v":19.8},{"band":"10 Mc","seg":"10g","t":20.02,"v":15.8},{"band":"10 Mc","seg":"10g","t":20.23,"v":13.3},{"band":"10 Mc","seg":"10g","t":20.39,"v":12.3},
{"band":"10 Mc","seg":"10h","t":20.39,"v":12.3},{"band":"10 Mc","seg":"10h","t":20.50,"v":26.3},{"band":"10 Mc","seg":"10h","t":20.63,"v":23.3},{"band":"10 Mc","seg":"10h","t":20.90,"v":19.8},{"band":"10 Mc","seg":"10h","t":21.17,"v":17.8},{"band":"10 Mc","seg":"10h","t":21.44,"v":18.3},{"band":"10 Mc","seg":"10h","t":21.65,"v":20.3},{"band":"10 Mc","seg":"10h","t":21.92,"v":17.8},{"band":"10 Mc","seg":"10h","t":22.12,"v":16.3},{"band":"10 Mc","seg":"10h","t":22.39,"v":16.6},{"band":"10 Mc","seg":"10h","t":22.73,"v":15.3},{"band":"10 Mc","seg":"10h","t":23.06,"v":12.3},{"band":"10 Mc","seg":"10h","t":23.33,"v":14.8},{"band":"10 Mc","seg":"10h","t":23.54,"v":17.8},{"band":"10 Mc","seg":"10h","t":23.81,"v":14.8},{"band":"10 Mc","seg":"10h","t":24.01,"v":12.8},{"band":"10 Mc","seg":"10h","t":24.28,"v":13.3},{"band":"10 Mc","seg":"10h","t":24.55,"v":13.0},{"band":"10 Mc","seg":"10h","t":24.75,"v":15.3},{"band":"10 Mc","seg":"10h","t":24.89,"v":19.8},{"band":"10 Mc","seg":"10h","t":25.09,"v":21.3},{"band":"10 Mc","seg":"10h","t":25.29,"v":20.8},{"band":"10 Mc","seg":"10h","t":25.50,"v":18.8},{"band":"10 Mc","seg":"10h","t":25.63,"v":20.8},{"band":"10 Mc","seg":"10h","t":25.77,"v":23.8},
{"band":"10 Mc","seg":"10i","t":26.04,"v":20.3},{"band":"10 Mc","seg":"10i","t":26.24,"v":18.3},{"band":"10 Mc","seg":"10i","t":26.51,"v":16.3},{"band":"10 Mc","seg":"10i","t":26.78,"v":14.3},{"band":"10 Mc","seg":"10i","t":27.12,"v":12.8},{"band":"10 Mc","seg":"10i","t":27.39,"v":14.8},{"band":"10 Mc","seg":"10i","t":27.66,"v":13.8},{"band":"10 Mc","seg":"10i","t":27.93,"v":12.3},{"band":"10 Mc","seg":"10i","t":28.27,"v":10.3},{"band":"10 Mc","seg":"10i","t":28.47,"v":8.3},{"band":"10 Mc","seg":"10i","t":28.74,"v":8.0},{"band":"10 Mc","seg":"10i","t":28.94,"v":8.8},{"band":"10 Mc","seg":"10i","t":29.14,"v":8.8},{"band":"10 Mc","seg":"10i","t":29.35,"v":10.8},{"band":"10 Mc","seg":"10i","t":29.55,"v":11.3},{"band":"10 Mc","seg":"10i","t":29.75,"v":13.3},{"band":"10 Mc","seg":"10i","t":29.89,"v":14.8}
],
"baselines": [
{"band":"12 kc","start":-10.02,"end":30.56,"level":0},
{"band":"100 kc","start":-10.02,"end":30.56,"level":0},
{"band":"2.5 Mc","start":-10.02,"end":30.56,"level":0},
{"band":"10 Mc","start":-10.02,"end":30.56,"level":0}
],
"guides": [
{"band":"2.5 Mc","start":-9.89,"end":-0.06,"level":29.1},
{"band":"10 Mc","start":-9.89,"end":-5.67,"level":23.3}
],
"markers": [
{"band":"12 kc","t":10.07,"top":55.8,"bottom":0},
{"band":"100 kc","t":0.0,"top":58.2,"bottom":0},
{"band":"2.5 Mc","t":0.0,"top":57.6,"bottom":36.6},
{"band":"10 Mc","t":20.0,"top":44.4,"bottom":-1.2}
],
"dashmarks": [
{"band":"12 kc","t":0.0,"top":49.8,"bottom":0},
{"band":"12 kc","t":29.9,"top":30.9,"bottom":17.7},
{"band":"100 kc","t":10.07,"top":58.2,"bottom":13.5},
{"band":"2.5 Mc","t":0.0,"top":36.6,"bottom":27.6},
{"band":"2.5 Mc","t":20.0,"top":45.0,"bottom":0},
{"band":"10 Mc","t":20.0,"top":49.0,"bottom":44.4}
],
"labels": [
{"band":"12 kc","text":"12 kc","t":27.79,"v":42.0},
{"band":"100 kc","text":"100 kc","t":27.73,"v":30.0},
{"band":"2.5 Mc","text":"2.5 Mc","t":27.84,"v":12.0},
{"band":"10 Mc","text":"10 Mc","t":27.79,"v":16.8}
],
"zeros": [
{"band":"12 kc","text":"0","t":30.98,"v":-1.5},
{"band":"100 kc","text":"0","t":30.98,"v":-2.1},
{"band":"2.5 Mc","text":"0","t":30.98,"v":-1.8},
{"band":"10 Mc","text":"0","t":30.98,"v":-3.6}
],
"times": [
{"text":"2:49 PM","t":-9.78,"v":-7.8},
{"text":"3:09","t":0.26,"v":-7.8},
{"text":"3:19","t":10.09,"v":-7.8},
{"text":"3:29","t":20.03,"v":-7.8}
]
},
"spacing": 0,
"bounds": "flush",
"vconcat": [
{
"width": 1588, "height": 196,
"layer": [
{"data": {"name": "baselines"}, "transform": [{"filter": {"field": "band", "equal": "12 kc"}}], "mark": {"type": "rule", "color": "#333333", "strokeWidth": 2}, "encoding": {"x": {"field": "start", "type": "quantitative", "scale": {"domain": [-10.354, 31.27], "nice": false, "zero": false}, "axis": null}, "x2": {"field": "end"}, "y": {"field": "level", "type": "quantitative", "scale": {"domain": [0, 58.8], "nice": false, "zero": false}, "axis": null}}},
{"data": {"name": "markers"}, "transform": [{"filter": {"field": "band", "equal": "12 kc"}}], "mark": {"type": "rule", "color": "#3c3c3c", "strokeWidth": 1.3}, "encoding": {"x": {"field": "t", "type": "quantitative", "scale": {"domain": [-10.354, 31.27], "nice": false, "zero": false}, "axis": null}, "y": {"field": "top", "type": "quantitative", "scale": {"domain": [0, 58.8], "nice": false, "zero": false}, "axis": null}, "y2": {"field": "bottom"}}},
{"data": {"name": "dashmarks"}, "transform": [{"filter": {"field": "band", "equal": "12 kc"}}], "mark": {"type": "rule", "color": "#555555", "strokeWidth": 1.2, "strokeDash": [7, 4]}, "encoding": {"x": {"field": "t", "type": "quantitative", "scale": {"domain": [-10.354, 31.27], "nice": false, "zero": false}, "axis": null}, "y": {"field": "top", "type": "quantitative", "scale": {"domain": [0, 58.8], "nice": false, "zero": false}, "axis": null}, "y2": {"field": "bottom"}}},
{"data": {"name": "trace"}, "transform": [{"filter": {"field": "seg", "oneOf": ["12b", "12c", "12d", "12e", "12f", "12g"]}}], "mark": {"type": "line", "color": "#383838", "strokeWidth": 1.4, "strokeJoin": "round", "strokeCap": "round"}, "encoding": {"x": {"field": "t", "type": "quantitative", "scale": {"domain": [-10.354, 31.27], "nice": false, "zero": false}, "axis": null}, "y": {"field": "v", "type": "quantitative", "scale": {"domain": [0, 58.8], "nice": false, "zero": false}, "axis": null}, "detail": {"field": "seg", "type": "nominal"}}},
{"data": {"name": "trace"}, "transform": [{"filter": {"field": "seg", "oneOf": ["12h", "12i"]}}], "mark": {"type": "line", "color": "#1c1c1c", "strokeWidth": 3.4, "strokeJoin": "round", "strokeCap": "round"}, "encoding": {"x": {"field": "t", "type": "quantitative", "scale": {"domain": [-10.354, 31.27], "nice": false, "zero": false}, "axis": null}, "y": {"field": "v", "type": "quantitative", "scale": {"domain": [0, 58.8], "nice": false, "zero": false}, "axis": null}, "detail": {"field": "seg", "type": "nominal"}}},
{"data": {"name": "trace"}, "transform": [{"filter": {"field": "seg", "oneOf": ["12a"]}}], "mark": {"type": "line", "color": "#1c1c1c", "strokeWidth": 4, "strokeJoin": "round", "strokeCap": "round"}, "encoding": {"x": {"field": "t", "type": "quantitative", "scale": {"domain": [-10.354, 31.27], "nice": false, "zero": false}, "axis": null}, "y": {"field": "v", "type": "quantitative", "scale": {"domain": [0, 58.8], "nice": false, "zero": false}, "axis": null}, "detail": {"field": "seg", "type": "nominal"}}},
{"data": {"name": "labels"}, "transform": [{"filter": {"field": "band", "equal": "12 kc"}}], "mark": {"type": "text", "align": "left", "baseline": "alphabetic", "fontSize": 24, "color": "#505050"}, "encoding": {"x": {"field": "t", "type": "quantitative", "scale": {"domain": [-10.354, 31.27], "nice": false, "zero": false}, "axis": null}, "y": {"field": "v", "type": "quantitative", "scale": {"domain": [0, 58.8], "nice": false, "zero": false}, "axis": null}, "text": {"field": "text"}}},
{"data": {"name": "zeros"}, "transform": [{"filter": {"field": "band", "equal": "12 kc"}}], "mark": {"type": "text", "align": "center", "baseline": "alphabetic", "fontSize": 21, "color": "#505050"}, "encoding": {"x": {"field": "t", "type": "quantitative", "scale": {"domain": [-10.354, 31.27], "nice": false, "zero": false}, "axis": null}, "y": {"field": "v", "type": "quantitative", "scale": {"domain": [0, 58.8], "nice": false, "zero": false}, "axis": null}, "text": {"field": "text"}}}
]
},
{
"width": 1588, "height": 194,
"layer": [
{"data": {"name": "baselines"}, "transform": [{"filter": {"field": "band", "equal": "100 kc"}}], "mark": {"type": "rule", "color": "#333333", "strokeWidth": 2}, "encoding": {"x": {"field": "start", "type": "quantitative", "scale": {"domain": [-10.354, 31.27], "nice": false, "zero": false}, "axis": null}, "x2": {"field": "end"}, "y": {"field": "level", "type": "quantitative", "scale": {"domain": [0, 58.2], "nice": false, "zero": false}, "axis": null}}},
{"data": {"name": "markers"}, "transform": [{"filter": {"field": "band", "equal": "100 kc"}}], "mark": {"type": "rule", "color": "#3c3c3c", "strokeWidth": 1.3}, "encoding": {"x": {"field": "t", "type": "quantitative", "scale": {"domain": [-10.354, 31.27], "nice": false, "zero": false}, "axis": null}, "y": {"field": "top", "type": "quantitative", "scale": {"domain": [0, 58.2], "nice": false, "zero": false}, "axis": null}, "y2": {"field": "bottom"}}},
{"data": {"name": "dashmarks"}, "transform": [{"filter": {"field": "band", "equal": "100 kc"}}], "mark": {"type": "rule", "color": "#555555", "strokeWidth": 1.2, "strokeDash": [7, 4]}, "encoding": {"x": {"field": "t", "type": "quantitative", "scale": {"domain": [-10.354, 31.27], "nice": false, "zero": false}, "axis": null}, "y": {"field": "top", "type": "quantitative", "scale": {"domain": [0, 58.2], "nice": false, "zero": false}, "axis": null}, "y2": {"field": "bottom"}}},
{"data": {"name": "trace"}, "transform": [{"filter": {"field": "seg", "oneOf": ["100e", "100f"]}}], "mark": {"type": "line", "color": "#2a2a2a", "strokeWidth": 1.6, "strokeJoin": "round", "strokeCap": "round"}, "encoding": {"x": {"field": "t", "type": "quantitative", "scale": {"domain": [-10.354, 31.27], "nice": false, "zero": false}, "axis": null}, "y": {"field": "v", "type": "quantitative", "scale": {"domain": [0, 58.2], "nice": false, "zero": false}, "axis": null}, "detail": {"field": "seg", "type": "nominal"}}},
{"data": {"name": "trace"}, "transform": [{"filter": {"field": "seg", "oneOf": ["100b", "100c", "100g"]}}], "mark": {"type": "line", "color": "#1e1e1e", "strokeWidth": 2.6, "strokeJoin": "round", "strokeCap": "round"}, "encoding": {"x": {"field": "t", "type": "quantitative", "scale": {"domain": [-10.354, 31.27], "nice": false, "zero": false}, "axis": null}, "y": {"field": "v", "type": "quantitative", "scale": {"domain": [0, 58.2], "nice": false, "zero": false}, "axis": null}, "detail": {"field": "seg", "type": "nominal"}}},
{"data": {"name": "trace"}, "transform": [{"filter": {"field": "seg", "oneOf": ["100d", "100h"]}}], "mark": {"type": "line", "color": "#1c1c1c", "strokeWidth": 3.3, "strokeJoin": "round", "strokeCap": "round"}, "encoding": {"x": {"field": "t", "type": "quantitative", "scale": {"domain": [-10.354, 31.27], "nice": false, "zero": false}, "axis": null}, "y": {"field": "v", "type": "quantitative", "scale": {"domain": [0, 58.2], "nice": false, "zero": false}, "axis": null}, "detail": {"field": "seg", "type": "nominal"}}},
{"data": {"name": "trace"}, "transform": [{"filter": {"field": "seg", "oneOf": ["100a", "100i"]}}], "mark": {"type": "line", "color": "#1a1a1a", "strokeWidth": 4.4, "strokeJoin": "round", "strokeCap": "round"}, "encoding": {"x": {"field": "t", "type": "quantitative", "scale": {"domain": [-10.354, 31.27], "nice": false, "zero": false}, "axis": null}, "y": {"field": "v", "type": "quantitative", "scale": {"domain": [0, 58.2], "nice": false, "zero": false}, "axis": null}, "detail": {"field": "seg", "type": "nominal"}}},
{"data": {"name": "labels"}, "transform": [{"filter": {"field": "band", "equal": "100 kc"}}], "mark": {"type": "text", "align": "left", "baseline": "alphabetic", "fontSize": 24, "color": "#505050"}, "encoding": {"x": {"field": "t", "type": "quantitative", "scale": {"domain": [-10.354, 31.27], "nice": false, "zero": false}, "axis": null}, "y": {"field": "v", "type": "quantitative", "scale": {"domain": [0, 58.2], "nice": false, "zero": false}, "axis": null}, "text": {"field": "text"}}},
{"data": {"name": "zeros"}, "transform": [{"filter": {"field": "band", "equal": "100 kc"}}], "mark": {"type": "text", "align": "center", "baseline": "alphabetic", "fontSize": 21, "color": "#505050"}, "encoding": {"x": {"field": "t", "type": "quantitative", "scale": {"domain": [-10.354, 31.27], "nice": false, "zero": false}, "axis": null}, "y": {"field": "v", "type": "quantitative", "scale": {"domain": [0, 58.2], "nice": false, "zero": false}, "axis": null}, "text": {"field": "text"}}}
]
},
{
"width": 1588, "height": 192,
"layer": [
{"data": {"name": "baselines"}, "transform": [{"filter": {"field": "band", "equal": "2.5 Mc"}}], "mark": {"type": "rule", "color": "#333333", "strokeWidth": 2}, "encoding": {"x": {"field": "start", "type": "quantitative", "scale": {"domain": [-10.354, 31.27], "nice": false, "zero": false}, "axis": null}, "x2": {"field": "end"}, "y": {"field": "level", "type": "quantitative", "scale": {"domain": [0, 57.6], "nice": false, "zero": false}, "axis": null}}},
{"data": {"name": "guides"}, "transform": [{"filter": {"field": "band", "equal": "2.5 Mc"}}], "mark": {"type": "rule", "color": "#a5a5a5", "strokeWidth": 1.5, "strokeDash": [10, 5]}, "encoding": {"x": {"field": "start", "type": "quantitative", "scale": {"domain": [-10.354, 31.27], "nice": false, "zero": false}, "axis": null}, "x2": {"field": "end"}, "y": {"field": "level", "type": "quantitative", "scale": {"domain": [0, 57.6], "nice": false, "zero": false}, "axis": null}}},
{"data": {"name": "markers"}, "transform": [{"filter": {"field": "band", "equal": "2.5 Mc"}}], "mark": {"type": "rule", "color": "#3c3c3c", "strokeWidth": 1.3}, "encoding": {"x": {"field": "t", "type": "quantitative", "scale": {"domain": [-10.354, 31.27], "nice": false, "zero": false}, "axis": null}, "y": {"field": "top", "type": "quantitative", "scale": {"domain": [0, 57.6], "nice": false, "zero": false}, "axis": null}, "y2": {"field": "bottom"}}},
{"data": {"name": "dashmarks"}, "transform": [{"filter": {"field": "band", "equal": "2.5 Mc"}}], "mark": {"type": "rule", "color": "#555555", "strokeWidth": 1.2, "strokeDash": [7, 4]}, "encoding": {"x": {"field": "t", "type": "quantitative", "scale": {"domain": [-10.354, 31.27], "nice": false, "zero": false}, "axis": null}, "y": {"field": "top", "type": "quantitative", "scale": {"domain": [0, 57.6], "nice": false, "zero": false}, "axis": null}, "y2": {"field": "bottom"}}},
{"data": {"name": "trace"}, "transform": [{"filter": {"field": "seg", "oneOf": ["25d"]}}], "mark": {"type": "line", "color": "#1e1e1e", "strokeWidth": 2.4, "strokeJoin": "round", "strokeCap": "round"}, "encoding": {"x": {"field": "t", "type": "quantitative", "scale": {"domain": [-10.354, 31.27], "nice": false, "zero": false}, "axis": null}, "y": {"field": "v", "type": "quantitative", "scale": {"domain": [0, 57.6], "nice": false, "zero": false}, "axis": null}, "detail": {"field": "seg", "type": "nominal"}}},
{"data": {"name": "trace"}, "transform": [{"filter": {"field": "seg", "oneOf": ["25b", "25c", "25e"]}}], "mark": {"type": "line", "color": "#1a1a1a", "strokeWidth": 3.6, "strokeJoin": "round", "strokeCap": "round"}, "encoding": {"x": {"field": "t", "type": "quantitative", "scale": {"domain": [-10.354, 31.27], "nice": false, "zero": false}, "axis": null}, "y": {"field": "v", "type": "quantitative", "scale": {"domain": [0, 57.6], "nice": false, "zero": false}, "axis": null}, "detail": {"field": "seg", "type": "nominal"}}},
{"data": {"name": "trace"}, "transform": [{"filter": {"field": "seg", "oneOf": ["25f"]}}], "mark": {"type": "line", "color": "#1a1a1a", "strokeWidth": 4.8, "strokeJoin": "round", "strokeCap": "round"}, "encoding": {"x": {"field": "t", "type": "quantitative", "scale": {"domain": [-10.354, 31.27], "nice": false, "zero": false}, "axis": null}, "y": {"field": "v", "type": "quantitative", "scale": {"domain": [0, 57.6], "nice": false, "zero": false}, "axis": null}, "detail": {"field": "seg", "type": "nominal"}}},
{"data": {"name": "trace"}, "transform": [{"filter": {"field": "seg", "oneOf": ["25a"]}}], "mark": {"type": "line", "color": "#161616", "strokeWidth": 7, "strokeJoin": "round", "strokeCap": "butt"}, "encoding": {"x": {"field": "t", "type": "quantitative", "scale": {"domain": [-10.354, 31.27], "nice": false, "zero": false}, "axis": null}, "y": {"field": "v", "type": "quantitative", "scale": {"domain": [0, 57.6], "nice": false, "zero": false}, "axis": null}, "detail": {"field": "seg", "type": "nominal"}}},
{"data": {"name": "labels"}, "transform": [{"filter": {"field": "band", "equal": "2.5 Mc"}}], "mark": {"type": "text", "align": "left", "baseline": "alphabetic", "fontSize": 24, "color": "#505050"}, "encoding": {"x": {"field": "t", "type": "quantitative", "scale": {"domain": [-10.354, 31.27], "nice": false, "zero": false}, "axis": null}, "y": {"field": "v", "type": "quantitative", "scale": {"domain": [0, 57.6], "nice": false, "zero": false}, "axis": null}, "text": {"field": "text"}}},
{"data": {"name": "zeros"}, "transform": [{"filter": {"field": "band", "equal": "2.5 Mc"}}], "mark": {"type": "text", "align": "center", "baseline": "alphabetic", "fontSize": 21, "color": "#505050"}, "encoding": {"x": {"field": "t", "type": "quantitative", "scale": {"domain": [-10.354, 31.27], "nice": false, "zero": false}, "axis": null}, "y": {"field": "v", "type": "quantitative", "scale": {"domain": [0, 57.6], "nice": false, "zero": false}, "axis": null}, "text": {"field": "text"}}}
]
},
{
"width": 1588, "height": 174,
"layer": [
{"data": {"name": "baselines"}, "transform": [{"filter": {"field": "band", "equal": "10 Mc"}}], "mark": {"type": "rule", "color": "#333333", "strokeWidth": 2}, "encoding": {"x": {"field": "start", "type": "quantitative", "scale": {"domain": [-10.354, 31.27], "nice": false, "zero": false}, "axis": null}, "x2": {"field": "end"}, "y": {"field": "level", "type": "quantitative", "scale": {"domain": [0, 52.2], "nice": false, "zero": false}, "axis": null}}},
{"data": {"name": "guides"}, "transform": [{"filter": {"field": "band", "equal": "10 Mc"}}], "mark": {"type": "rule", "color": "#8f8f8f", "strokeWidth": 1.5, "strokeDash": [10, 5]}, "encoding": {"x": {"field": "start", "type": "quantitative", "scale": {"domain": [-10.354, 31.27], "nice": false, "zero": false}, "axis": null}, "x2": {"field": "end"}, "y": {"field": "level", "type": "quantitative", "scale": {"domain": [0, 52.2], "nice": false, "zero": false}, "axis": null}}},
{"data": {"name": "markers"}, "transform": [{"filter": {"field": "band", "equal": "10 Mc"}}], "mark": {"type": "rule", "color": "#3c3c3c", "strokeWidth": 1.3}, "encoding": {"x": {"field": "t", "type": "quantitative", "scale": {"domain": [-10.354, 31.27], "nice": false, "zero": false}, "axis": null}, "y": {"field": "top", "type": "quantitative", "scale": {"domain": [0, 52.2], "nice": false, "zero": false}, "axis": null}, "y2": {"field": "bottom"}}},
{"data": {"name": "dashmarks"}, "transform": [{"filter": {"field": "band", "equal": "10 Mc"}}], "mark": {"type": "rule", "color": "#555555", "strokeWidth": 1.2, "strokeDash": [7, 4]}, "encoding": {"x": {"field": "t", "type": "quantitative", "scale": {"domain": [-10.354, 31.27], "nice": false, "zero": false}, "axis": null}, "y": {"field": "top", "type": "quantitative", "scale": {"domain": [0, 52.2], "nice": false, "zero": false}, "axis": null}, "y2": {"field": "bottom"}}},
{"data": {"name": "trace"}, "transform": [{"filter": {"field": "seg", "oneOf": ["10c", "10d", "10f"]}}], "mark": {"type": "line", "color": "#2a2a2a", "strokeWidth": 1.6, "strokeJoin": "round", "strokeCap": "round"}, "encoding": {"x": {"field": "t", "type": "quantitative", "scale": {"domain": [-10.354, 31.27], "nice": false, "zero": false}, "axis": null}, "y": {"field": "v", "type": "quantitative", "scale": {"domain": [0, 52.2], "nice": false, "zero": false}, "axis": null}, "detail": {"field": "seg", "type": "nominal"}}},
{"data": {"name": "trace"}, "transform": [{"filter": {"field": "seg", "oneOf": ["10b", "10g"]}}], "mark": {"type": "line", "color": "#1e1e1e", "strokeWidth": 2.6, "strokeJoin": "round", "strokeCap": "round"}, "encoding": {"x": {"field": "t", "type": "quantitative", "scale": {"domain": [-10.354, 31.27], "nice": false, "zero": false}, "axis": null}, "y": {"field": "v", "type": "quantitative", "scale": {"domain": [0, 52.2], "nice": false, "zero": false}, "axis": null}, "detail": {"field": "seg", "type": "nominal"}}},
{"data": {"name": "trace"}, "transform": [{"filter": {"field": "seg", "oneOf": ["10e", "10h"]}}], "mark": {"type": "line", "color": "#1c1c1c", "strokeWidth": 3.4, "strokeJoin": "round", "strokeCap": "round"}, "encoding": {"x": {"field": "t", "type": "quantitative", "scale": {"domain": [-10.354, 31.27], "nice": false, "zero": false}, "axis": null}, "y": {"field": "v", "type": "quantitative", "scale": {"domain": [0, 52.2], "nice": false, "zero": false}, "axis": null}, "detail": {"field": "seg", "type": "nominal"}}},
{"data": {"name": "trace"}, "transform": [{"filter": {"field": "seg", "oneOf": ["10a", "10i"]}}], "mark": {"type": "line", "color": "#1a1a1a", "strokeWidth": 4.4, "strokeJoin": "round", "strokeCap": "round"}, "encoding": {"x": {"field": "t", "type": "quantitative", "scale": {"domain": [-10.354, 31.27], "nice": false, "zero": false}, "axis": null}, "y": {"field": "v", "type": "quantitative", "scale": {"domain": [0, 52.2], "nice": false, "zero": false}, "axis": null}, "detail": {"field": "seg", "type": "nominal"}}},
{"data": {"name": "labels"}, "transform": [{"filter": {"field": "band", "equal": "10 Mc"}}], "mark": {"type": "text", "align": "left", "baseline": "alphabetic", "fontSize": 24, "color": "#505050"}, "encoding": {"x": {"field": "t", "type": "quantitative", "scale": {"domain": [-10.354, 31.27], "nice": false, "zero": false}, "axis": null}, "y": {"field": "v", "type": "quantitative", "scale": {"domain": [0, 52.2], "nice": false, "zero": false}, "axis": null}, "text": {"field": "text"}}},
{"data": {"name": "zeros"}, "transform": [{"filter": {"field": "band", "equal": "10 Mc"}}], "mark": {"type": "text", "align": "center", "baseline": "alphabetic", "fontSize": 21, "color": "#505050"}, "encoding": {"x": {"field": "t", "type": "quantitative", "scale": {"domain": [-10.354, 31.27], "nice": false, "zero": false}, "axis": null}, "y": {"field": "v", "type": "quantitative", "scale": {"domain": [0, 52.2], "nice": false, "zero": false}, "axis": null}, "text": {"field": "text"}}},
{"data": {"name": "times"}, "mark": {"type": "text", "align": "left", "baseline": "alphabetic", "fontSize": 27, "color": "#505050"}, "encoding": {"x": {"field": "t", "type": "quantitative", "scale": {"domain": [-10.354, 31.27], "nice": false, "zero": false}, "axis": null}, "y": {"field": "v", "type": "quantitative", "scale": {"domain": [0, 52.2], "nice": false, "zero": false}, "axis": null}, "text": {"field": "text"}}}
]
}
]
}
